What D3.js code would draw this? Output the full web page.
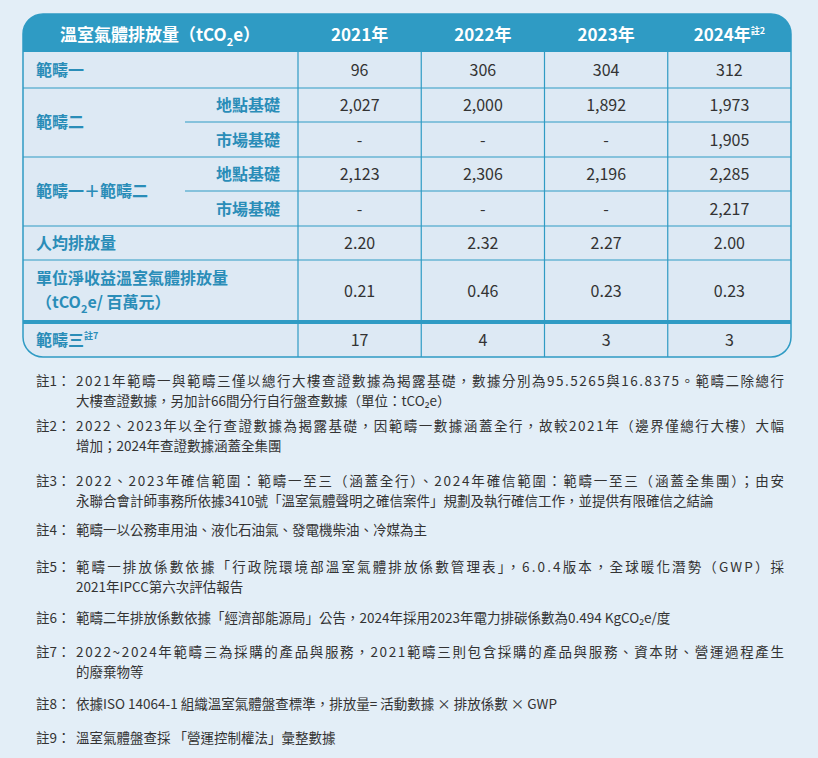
<!DOCTYPE html>
<html><head><meta charset="utf-8">
<script src="https://cdn.jsdelivr.net/npm/d3@7"></script>
<style>body{margin:0;background:#e3eef7;font-family:"Noto Sans CJK TC","Noto Sans",sans-serif}</style>
</head><body><div id="root"></div>
<script>
const years = ["2021年", "2022年", "2023年", "2024年"];
const rowLabels = ["範疇一", "範疇二", "範疇二", "範疇一＋範疇二", "範疇一＋範疇二", "人均排放量", "單位淨收益溫室氣體排放量", "範疇三"];
const subLabels = [null, "地點基礎", "市場基礎", "地點基礎", "市場基礎", null, null, null];
const values = [
  ["96", "306", "304", "312"],
  ["2,027", "2,000", "1,892", "1,973"],
  ["-", "-", "-", "1,905"],
  ["2,123", "2,306", "2,196", "2,285"],
  ["-", "-", "-", "2,217"],
  ["2.20", "2.32", "2.27", "2.00"],
  ["0.21", "0.46", "0.23", "0.23"],
  ["17", "4", "3", "3"]
];
const rowEdges = [52, 88, 122, 157, 191, 226, 260, 322, 357];
const notes = [
  ["註1：", "2021年範疇一與範疇三僅以總行大樓查證數據為揭露基礎，數據分別為95.5265與16.8375。範疇二除總行", "大樓查證數據，另加計66間分行自行盤查數據（單位：tCO₂e）"],
  ["註2：", "2022、2023年以全行查證數據為揭露基礎，因範疇一數據涵蓋全行，故較2021年（邊界僅總行大樓）大幅", "增加；2024年查證數據涵蓋全集團"],
  ["註3：", "2022、2023年確信範圍：範疇一至三（涵蓋全行）、2024年確信範圍：範疇一至三（涵蓋全集團）；由安", "永聯合會計師事務所依據3410號「溫室氣體聲明之確信案件」規劃及執行確信工作，並提供有限確信之結論"],
  ["註4：", "範疇一以公務車用油、液化石油氣、發電機柴油、冷媒為主"],
  ["註5：", "範疇一排放係數依據「行政院環境部溫室氣體排放係數管理表」，6.0.4版本，全球暖化潛勢（GWP）採", "2021年IPCC第六次評估報告"],
  ["註6：", "範疇二年排放係數依據「經濟部能源局」公告，2024年採用2023年電力排碳係數為0.494 KgCO₂e/度"],
  ["註7：", "2022~2024年範疇三為採購的產品與服務，2021範疇三則包含採購的產品與服務、資本財、營運過程產生", "的廢棄物等"],
  ["註8：", "依據ISO 14064-1 組織溫室氣體盤查標準，排放量= 活動數據 × 排放係數 × GWP"],
  ["註9：", "溫室氣體盤查採 「營運控制權法」彙整數據"]
];
const noteY = [381, 426, 481, 530, 567, 618, 652, 704, 738];

const width = 818, height = 758;
const teal = "#2f9bc4", label = "#2a8db8", ink = "#333";
const svg = d3.select("#root").append("svg").attr("width", width).attr("height", height);

const x = d3.scaleBand().domain(years).range([298, 791]);
const tL = 23, tR = 791, tT = 14, tB = 357, rad = 20;

svg.append("clipPath").attr("id", "c").append("rect")
  .attr("x", tL).attr("y", tT).attr("width", tR - tL).attr("height", tB - tT).attr("rx", rad);
const g = svg.append("g").attr("clip-path", "url(#c)");
g.append("rect").attr("x", tL).attr("y", tT).attr("width", tR - tL).attr("height", tB - tT).attr("fill", "#dde9f4");
g.append("rect").attr("x", tL).attr("y", tT).attr("width", tR - tL).attr("height", rowEdges[0] - tT).attr("fill", teal);

// horizontal lines
rowEdges.slice(1, -1).forEach((y, i) => {
  const sub = (i === 1 || i === 3);
  g.append("line").attr("x1", sub ? 185 : tL).attr("x2", tR).attr("y1", y).attr("y2", y)
    .attr("stroke", teal).attr("stroke-width", i === 6 ? 4 : 1.2);
});
// vertical lines
years.forEach(yr => {
  g.append("line").attr("x1", x(yr)).attr("x2", x(yr)).attr("y1", rowEdges[0]).attr("y2", tB)
    .attr("stroke", teal).attr("stroke-width", 1.2);
});
svg.append("rect").attr("x", tL).attr("y", tT).attr("width", tR - tL).attr("height", tB - tT).attr("rx", rad)
  .attr("fill", "none").attr("stroke", teal).attr("stroke-width", 1.5);

// header
const h = svg.append("text").attr("x", 160).attr("y", 41).attr("text-anchor", "middle").attr("fill", "#fff")
  .attr("font-size", 17).attr("font-weight", 700);
h.append("tspan").text("溫室氣體排放量（tCO");
h.append("tspan").text("2").attr("font-size", 11).attr("dy", 5);
h.append("tspan").text("e）").attr("dy", -5);
years.forEach((yr, i) => {
  const t = svg.append("text").attr("x", x(yr) + x.bandwidth() / 2).attr("y", 41).attr("text-anchor", "middle")
    .attr("fill", "#fff").attr("font-size", 17).attr("font-weight", 700).text(yr);
  if (i === 3) t.append("tspan").text("註2").attr("font-size", 9).attr("dy", -7);
});

// row labels
const lab = (txt, xx, y, anchor) => svg.append("text").attr("x", xx).attr("y", y).attr("text-anchor", anchor || "start")
  .attr("fill", label).attr("font-size", 16).attr("font-weight", 700).text(txt);
const mid = i => (rowEdges[i] + rowEdges[i + 1]) / 2 + 6;
lab(rowLabels[0], 36, mid(0));
lab(rowLabels[1], 36, rowEdges[2] + 6);
lab(rowLabels[3], 36, rowEdges[4] + 6);
lab(rowLabels[5], 36, mid(5));
lab(rowLabels[6], 36, 284);
const l2 = lab("（tCO", 36, 308);
l2.append("tspan").text("2").attr("font-size", 11).attr("dy", 5);
l2.append("tspan").text("e/ 百萬元）").attr("dy", -5);
lab(rowLabels[7], 36, mid(7)).append("tspan").text("註7").attr("font-size", 9).attr("dy", -7);
subLabels.forEach((s, i) => { if (s) lab(s, 280, mid(i), "end"); });

// values
values.forEach((row, i) => row.forEach((v, j) => {
  svg.append("text").attr("x", x(years[j]) + x.bandwidth() / 2).attr("y", mid(i)).attr("text-anchor", "middle")
    .attr("fill", ink).attr("font-size", 16).text(v);
}));

// notes
notes.forEach((n, i) => {
  svg.append("text").attr("x", 36).attr("y", noteY[i] + 5).attr("fill", ink).attr("font-size", 13.5).text(n[0]);
  n.slice(1).forEach((line, k) => {
    const t = svg.append("text").attr("x", 76).attr("y", noteY[i] + 5 + k * 20).attr("fill", ink).attr("font-size", 13.5).text(line);
    if (k === 0 && n.length > 2) t.attr("textLength", 708).attr("lengthAdjust", "spacing");
  });
});
</script></body></html>
